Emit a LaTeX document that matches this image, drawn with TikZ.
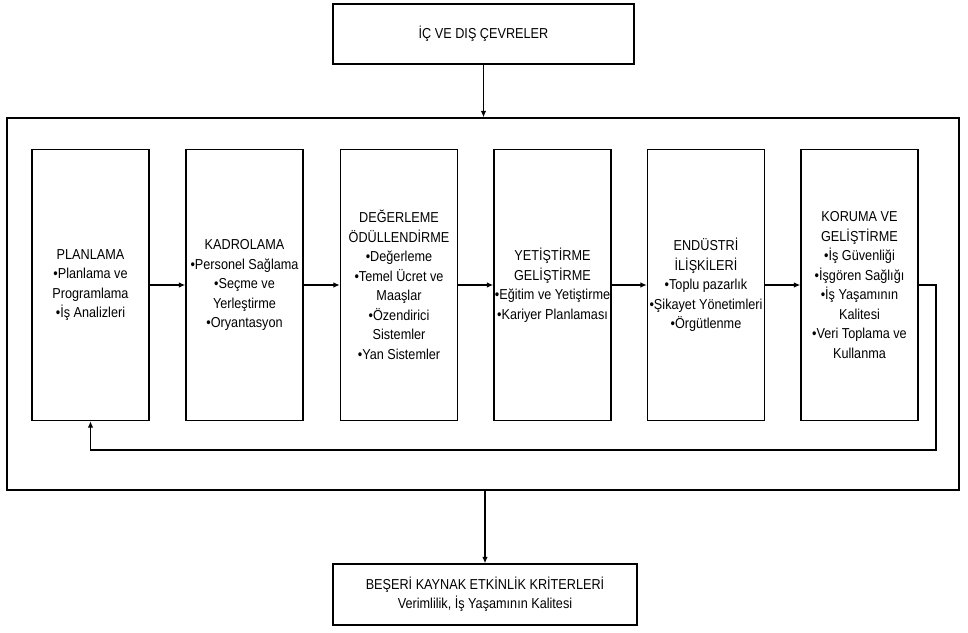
\documentclass[tikz,border=0pt]{standalone}
\usepackage{fontspec}
\setmainfont[FakeStretch=0.88]{Liberation Sans}
\usetikzlibrary{arrows.meta,positioning}

\begin{document}
\begin{tikzpicture}[x=1pt,y=-1pt,font=\fontsize{14.4}{19.5}\selectfont,
    cizgi/.style={line width=1.3pt},
    kutu/.style={draw,cizgi,minimum width=117pt,minimum height=271pt,inner sep=0pt,align=center},
    ok/.style={cizgi,-{Latex[length=6.5pt,width=5.5pt]}}]
  \useasboundingbox (0,0) rectangle (968,632);

  \node[draw,cizgi,minimum width=301pt,minimum height=60pt] (cevre) at (483.5,34) {İÇ VE DIŞ ÇEVRELER};
  \node[draw,cizgi,minimum width=952pt,minimum height=372pt] (sistem) at (483,304) {};
  \node[draw,cizgi,minimum width=304pt,minimum height=61pt,align=center] (kriter) at (485,594.5)
    {BEŞERİ KAYNAK ETKİNLİK KRİTERLERİ\\Verimlilik, İş Yaşamının Kalitesi};

  \foreach \n/\x/\metin in {
      p1/90.5/{PLANLAMA\\•Planlama ve\\Programlama\\•İş Analizleri},
      p2/244.5/{KADROLAMA\\•Personel Sağlama\\•Seçme ve\\Yerleştirme\\•Oryantasyon},
      p3/399/{DEĞERLEME\\ÖDÜLLENDİRME\\•Değerleme\\•Temel Ücret ve\\Maaşlar\\•Özendirici\\Sistemler\\•Yan Sistemler},
      p4/552.5/{YETİŞTİRME\\GELİŞTİRME\\•Eğitim ve Yetiştirme\\•Kariyer Planlaması},
      p5/706/{ENDÜSTRİ\\İLİŞKİLERİ\\•Toplu pazarlık\\•Şikayet Yönetimleri\\•Örgütlenme},
      p6/859.5/{KORUMA VE\\GELİŞTİRME\\•İş Güvenliği\\•İşgören Sağlığı\\•İş Yaşamının\\Kalitesi\\•Veri Toplama ve\\Kullanma}}
    \node[kutu] (\n) at (\x,285) {\metin};

  \foreach \a/\b in {p1/p2,p2/p3,p3/p4,p4/p5,p5/p6}
    \draw[ok] (\a.east) -- (\b.west);

  \draw[ok] (cevre.south) -- (cevre.south |- sistem.north);
  \draw[ok] (kriter.north |- sistem.south) -- (kriter.north);

  \coordinate (donus) at (936,450);
  \draw[ok] (p6.east) -| (donus) -| (p1.south);
\end{tikzpicture}
\end{document}
